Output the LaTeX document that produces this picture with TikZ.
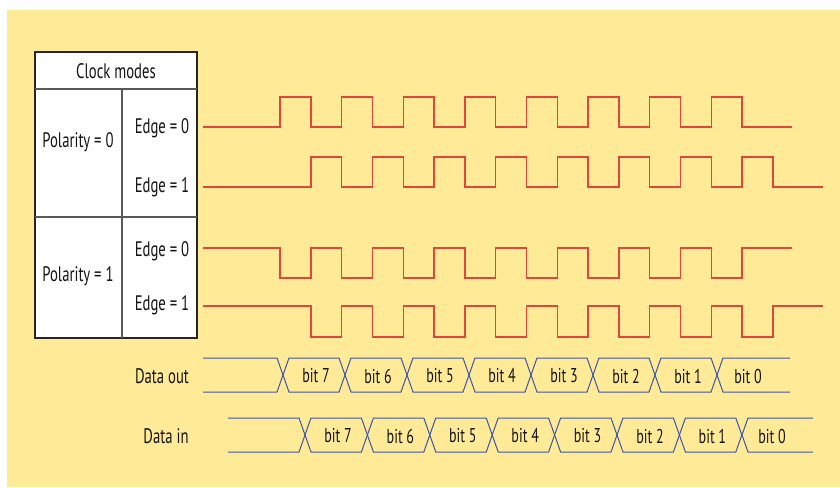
\documentclass[tikz,border=0pt]{standalone}
\usepackage{fontspec}
\setmainfont{PT Sans}[FakeStretch=0.7]
\definecolor{bg}{HTML}{FFEA98}
\definecolor{sig}{HTML}{E0463A}
\definecolor{bus}{HTML}{3D55A5}
\definecolor{txt}{HTML}{151515}
\begin{document}
\begin{tikzpicture}[x=1pt,y=-1pt,
  lbl/.style={font=\fontsize{21}{23}\selectfont, text=txt, inner sep=0pt},
  bitlbl/.style={font=\fontsize{20}{22}\selectfont, text=txt, inner sep=0pt},
  wave/.style={draw=sig, line width=1.4pt, line join=miter},
  busline/.style={draw=bus, line width=1pt, line join=miter},
  grid/.style={draw=black!85, line width=1.3pt},
  inner/.style={draw=black!65, line width=1.1pt}]
\fill[white] (0,0) rectangle (840,487);
\useasboundingbox (0,0) rectangle (840,487);
\fill[bg] (7,10) rectangle (840,487);
% table
\draw[grid, fill=white] (35,52) rectangle (197,338);
\draw[inner] (35,89) -- (197,89);
\draw[inner] (35,217) -- (197,217);
\draw[inner] (122,89) -- (122,338);
\node[lbl] (title) at (116,71) {Clock modes};
\node[lbl] (p0) at (78,142) {Polarity = 0};
\node[lbl] (p1) at (78,276) {Polarity = 1};
\node[lbl] (p0e0) at (162,128) {Edge = 0};
\node[lbl] (p0e1) at (162,187) {Edge = 1};
\node[lbl] (p1e0) at (162,251) {Edge = 0};
\node[lbl] (p1e1) at (162,305) {Edge = 1};
% waveforms
\draw[wave] (203,127) \foreach \k in {0,...,7} { -- ({280+61.6*\k},127) -- ({280+61.6*\k},97) -- ({310.8+61.6*\k},97) -- ({310.8+61.6*\k},127) } -- (792,127);
\draw[wave] (203,187) \foreach \k in {0,...,7} { -- ({310.8+61.6*\k},187) -- ({310.8+61.6*\k},157) -- ({341.6+61.6*\k},157) -- ({341.6+61.6*\k},187) } -- (823,187);
\draw[wave] (203,248) \foreach \k in {0,...,7} { -- ({280+61.6*\k},248) -- ({280+61.6*\k},278) -- ({310.8+61.6*\k},278) -- ({310.8+61.6*\k},248) } -- (792,248);
\draw[wave] (203,306) \foreach \k in {0,...,7} { -- ({310.8+61.6*\k},306) -- ({310.8+61.6*\k},337) -- ({341.6+61.6*\k},337) -- ({341.6+61.6*\k},306) } -- (823,306);
% data out bus
\node[lbl] (dout) at (162,376) {Data out};
\draw[busline] (203,358) -- (277,358) -- (283,375) -- (277,392) -- (203,392);
\foreach \k in {0,...,6} {
  \draw[busline] ({283+62*\k},375) -- ({289+62*\k},358) -- ({339+62*\k},358) -- ({345+62*\k},375) -- ({339+62*\k},392) -- ({289+62*\k},392) -- cycle;
}
\draw[busline] (790,358) -- (723,358) -- (717,375) -- (723,392) -- (790,392);
\foreach \k/\b in {0/7,1/6,2/5,3/4,4/3,5/2,6/1} {
  \node[bitlbl] (o\b) at ({316+62*\k},376) {bit \b};
}
\node[bitlbl] (o0) at (748,376) {bit 0};
% data in bus
\node[lbl] (din) at (166,436) {Data in};
\draw[busline] (228,418) -- (299,418) -- (305,435) -- (299,452) -- (228,452);
\foreach \k in {0,...,6} {
  \draw[busline] ({305+62.4*\k},435) -- ({311+62.4*\k},418) -- ({361.4+62.4*\k},418) -- ({367.4+62.4*\k},435) -- ({361.4+62.4*\k},452) -- ({311+62.4*\k},452) -- cycle;
}
\draw[busline] (813,418) -- (748,418) -- (742,435) -- (748,452) -- (813,452);
\foreach \k/\b in {0/7,1/6,2/5,3/4,4/3,5/2,6/1} {
  \node[bitlbl] (i\b) at ({338+62.4*\k},436) {bit \b};
}
\node[bitlbl] (i0) at (772,436) {bit 0};
\end{tikzpicture}
\end{document}
